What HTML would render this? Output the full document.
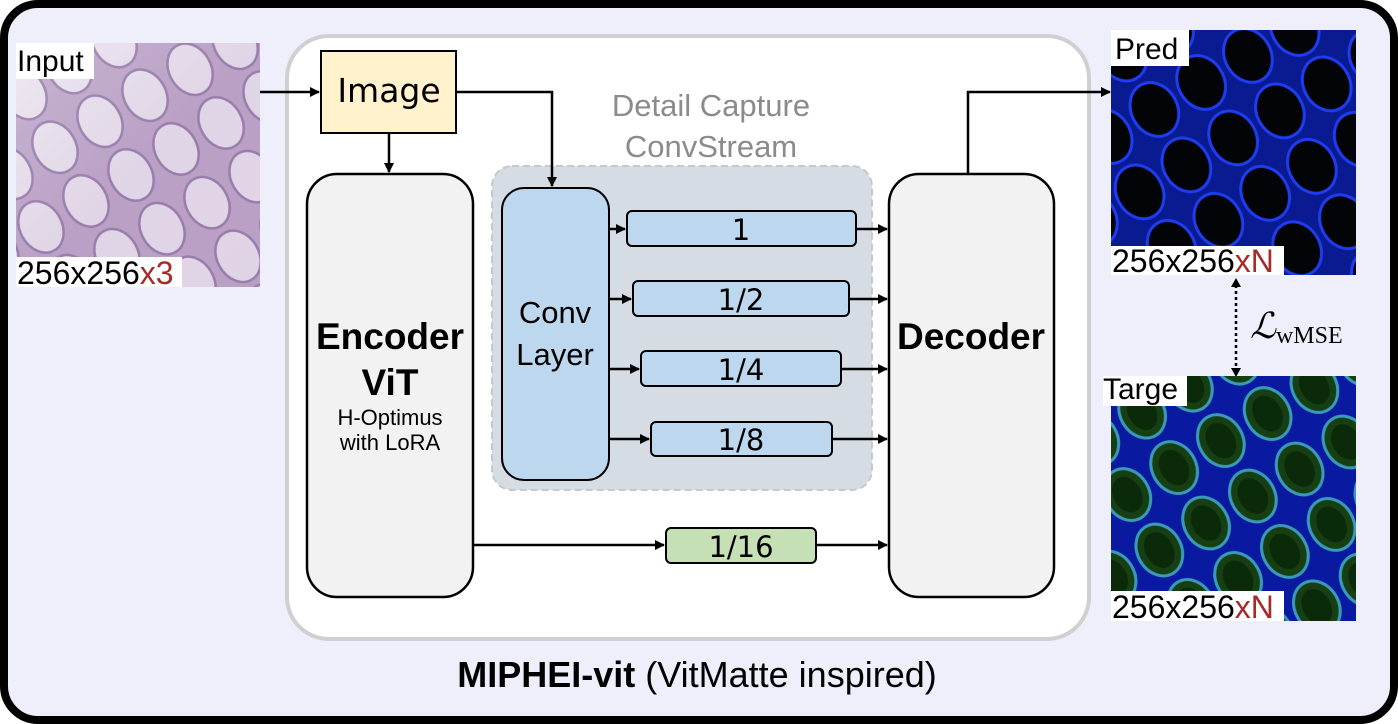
<!DOCTYPE html>
<html><head><meta charset="utf-8"><style>
html,body{margin:0;padding:0;background:#fff;}
svg{display:block;font-family:"Liberation Sans","DejaVu Sans",sans-serif;}
</style></head><body>
<svg width="1398" height="724" viewBox="0 0 1398 724" xmlns="http://www.w3.org/2000/svg">
<defs>
<marker id="a" markerWidth="10" markerHeight="10" refX="9" refY="5" orient="auto" markerUnits="userSpaceOnUse"><path d="M0,0 L10,5 L0,10 z" fill="#000"/></marker>
<linearGradient id="he" x1="0" y1="0" x2="1" y2="1"><stop offset="0" stop-color="#f2eef4"/><stop offset="0.5" stop-color="#cbb6d3"/><stop offset="1" stop-color="#c7b2d1"/></linearGradient>
<pattern id="gl" width="52" height="62" patternUnits="userSpaceOnUse" patternTransform="rotate(-30)"><rect width="52" height="62" fill="#b195bd"/><ellipse cx="26" cy="31" rx="21" ry="27" fill="#ece6f0" stroke="#7d5f98" stroke-width="2.5"/></pattern>
<pattern id="pr" width="54" height="64" patternUnits="userSpaceOnUse" patternTransform="rotate(-30)"><rect width="54" height="64" fill="#0a1a90"/><ellipse cx="27" cy="32" rx="23" ry="28" fill="#020408" stroke="#1e3cf0" stroke-width="3"/></pattern>
<pattern id="tg" width="54" height="64" patternUnits="userSpaceOnUse" patternTransform="rotate(-30)"><rect width="54" height="64" fill="#0a1aa0"/><ellipse cx="27" cy="32" rx="22" ry="27" fill="#163f14" stroke="#3a9ab8" stroke-width="3"/><ellipse cx="27" cy="32" rx="14" ry="19" fill="#0b2a0a"/></pattern>
</defs>
<rect x="4" y="4" width="1390" height="716" rx="34" fill="#efeffc" stroke="#000" stroke-width="8"/>
<!-- input image -->
<rect x="16" y="43" width="244" height="244" fill="url(#gl)"/>
<rect x="16" y="43" width="244" height="244" fill="url(#he)" opacity="0.35"/>
<rect x="16" y="43" width="78" height="36" fill="#fff"/>
<text x="17" y="71" font-size="30">Input</text>
<rect x="16" y="257" width="166" height="30" fill="#fff"/>
<text x="17" y="284" font-size="32">256x256<tspan fill="#a52a2a">x3</tspan></text>
<!-- main frame -->
<rect x="287" y="36" width="802" height="603" rx="42" fill="#fff" stroke="#d0d0d0" stroke-width="4"/>
<rect x="321" y="51" width="135" height="82" fill="#fff2cc" stroke="#000" stroke-width="2"/>
<text x="389" y="102" font-size="33" text-anchor="middle" font-family="DejaVu Sans,sans-serif">Image</text>
<text x="711" y="116" font-size="31" fill="#8c8a8a" text-anchor="middle">Detail Capture</text>
<text x="711" y="157" font-size="31" fill="#8c8a8a" text-anchor="middle">ConvStream</text>
<rect x="492" y="166" width="380" height="324" rx="20" fill="#d6dce4" stroke="#c8c8c8" stroke-width="2" stroke-dasharray="7,4"/>
<rect x="307" y="174" width="166" height="423" rx="30" fill="#f2f2f2" stroke="#000" stroke-width="2.5"/>
<text x="390" y="349" font-size="37" font-weight="bold" text-anchor="middle">Encoder</text>
<text x="390" y="395" font-size="37" font-weight="bold" text-anchor="middle">ViT</text>
<text x="390" y="425" font-size="22" text-anchor="middle">H-Optimus</text>
<text x="390" y="450" font-size="22" text-anchor="middle">with LoRA</text>
<rect x="502" y="188" width="107" height="292" rx="22" fill="#bdd7ee" stroke="#000" stroke-width="2"/>
<text x="555" y="323" font-size="31" text-anchor="middle">Conv</text>
<text x="555" y="365" font-size="31" text-anchor="middle">Layer</text>
<g stroke="#000" stroke-width="2">
<rect x="627" y="211" width="229" height="35" rx="5" fill="#bdd7ee"/>
<rect x="633" y="281" width="216" height="35" rx="5" fill="#bdd7ee"/>
<rect x="641" y="351" width="200" height="35" rx="5" fill="#bdd7ee"/>
<rect x="651" y="422" width="181" height="34" rx="5" fill="#bdd7ee"/>
<rect x="666" y="528" width="150" height="35" rx="5" fill="#c5e0b4"/>
</g>
<g font-size="29" text-anchor="middle" font-family="DejaVu Sans,sans-serif">
<text x="741" y="240">1</text><text x="741" y="310">1/2</text><text x="741" y="380">1/4</text><text x="741" y="450">1/8</text><text x="741" y="557">1/16</text>
</g>
<rect x="889" y="174" width="165" height="423" rx="30" fill="#f2f2f2" stroke="#000" stroke-width="2.5"/>
<text x="971" y="349" font-size="37" font-weight="bold" text-anchor="middle">Decoder</text>
<!-- arrows -->
<g stroke="#000" stroke-width="2.5" fill="none" marker-end="url(#a)">
<path d="M260 92 H319"/>
<path d="M389 133 V172"/>
<path d="M456 92 H552 V186"/>
<path d="M609 229 H625"/><path d="M609 299 H631"/><path d="M609 369 H639"/><path d="M609 439 H649"/>
<path d="M856 229 H887"/><path d="M849 299 H887"/><path d="M841 369 H887"/><path d="M832 439 H887"/>
<path d="M473 545 H664"/><path d="M816 545 H887"/>
<path d="M968 174 V92 H1110"/>
</g>
<!-- pred -->
<rect x="1111" y="30" width="245" height="245" fill="url(#pr)"/>
<rect x="1111" y="30" width="78" height="36" fill="#fff"/>
<text x="1115" y="59" font-size="30">Pred</text>
<rect x="1111" y="246" width="173" height="29" fill="#fff"/>
<text x="1112" y="272" font-size="32">256x256<tspan fill="#a52a2a">xN</tspan></text>
<!-- loss -->
<path d="M1236 285 V370" stroke="#000" stroke-width="2.5" stroke-dasharray="3,3" fill="none"/>
<path d="M1231 287 L1236 278 L1241 287 z M1231 368 L1236 377 L1241 368 z" fill="#000"/>
<text x="1250" y="338" font-size="36" font-family="Liberation Serif,serif" font-style="italic">ℒ<tspan font-style="normal" font-size="24" dy="5">wMSE</tspan></text>
<!-- target -->
<rect x="1111" y="376" width="245" height="245" fill="url(#tg)"/>
<rect x="1103" y="376" width="84" height="30" fill="#fff"/>
<text x="1103" y="399" font-size="30">Targe</text>
<rect x="1111" y="591" width="173" height="30" fill="#fff"/>
<text x="1112" y="618" font-size="32">256x256<tspan fill="#a52a2a">xN</tspan></text>
<text x="697" y="687" font-size="36" text-anchor="middle"><tspan font-weight="bold">MIPHEI-vit</tspan> (VitMatte inspired)</text>
</svg>
</body></html>
